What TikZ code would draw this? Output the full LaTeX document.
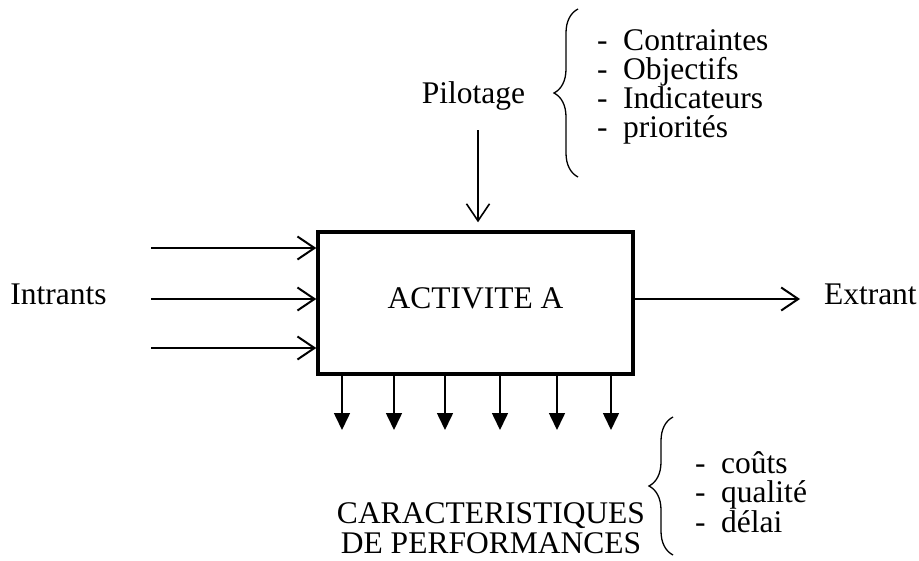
\documentclass[tikz,border=0pt]{standalone}
\usepackage{fontspec}
\setmainfont{Liberation Serif}
\usetikzlibrary{arrows.meta,decorations.pathreplacing}
\begin{document}
\begin{tikzpicture}[x=1pt,y=-1pt,
  lbl/.style={font=\fontsize{31.5}{28.5}\selectfont, inner sep=0pt, outer sep=0pt},
  openarrow/.style={line width=2pt, -{Straight Barb[length=17pt,width=23pt]}},
  outarrow/.style={line width=1.6pt, -{Triangle[length=17pt,width=16pt]}},
  bracket/.style={decorate, decoration={brace, amplitude=24pt}, line width=1.3pt},
  activity/.style={draw, line width=3.5pt, minimum width=315pt, minimum height=142pt,
    font=\fontsize{31.5}{31}\selectfont, text depth=9pt}
]
\useasboundingbox (0,0) rectangle (919,560);

% central activity box
\node[activity] (act) at (475.5,303) {ACTIVITE A};

% control input from above
\node[lbl, anchor=base] (pil) at (473.5,103) {Pilotage};
\coordinate (pilstart) at (478,130);
\draw[openarrow, line width=1.6pt, shorten >=8pt] (pilstart) -- (pilstart |- act.north);

% list of control elements
\draw[bracket] (578,177) -- coordinate (topbrace) (578,9);
\node[lbl, anchor=north west, align=left] (ctrl) at (597,30)
  {-\hspace{0.5em}Contraintes\\-\hspace{0.5em}Objectifs\\-\hspace{0.5em}Indicateurs\\-\hspace{0.5em}priorités};

% inputs on the left
\node[lbl, anchor=base] (intr) at (58.5,304) {Intrants};
\coordinate (in1) at (151,248);
\coordinate (in2) at (151,299);
\coordinate (in3) at (151,348);
\foreach \c in {in1,in2,in3}
  \draw[openarrow] (\c) -- (\c -| act.west);

% output on the right
\coordinate (outend) at (800,299);
\draw[openarrow] (outend -| act.east) -- (outend);
\node[lbl, anchor=base west] (extr) at (824,304) {Extrant};

% performance outputs below
\foreach \x [count=\i] in {342,394,445,500,557,611} {
  \coordinate (p\i) at (\x,430);
  \draw[outarrow] (p\i |- act.south) -- (p\i);
}
\node[lbl, align=center, font=\fontsize{31.5}{30}\selectfont] (perf) at (491,528)
  {CARACTERISTIQUES\\DE PERFORMANCES};

% list of performance criteria
\draw[bracket] (673,555) -- coordinate (botbrace) (673,417);
\node[lbl, anchor=north west, align=left] (crit) at (695,452)
  {-\hspace{0.5em}coûts\\-\hspace{0.5em}qualité\\-\hspace{0.5em}délai};
\end{tikzpicture}
\end{document}
